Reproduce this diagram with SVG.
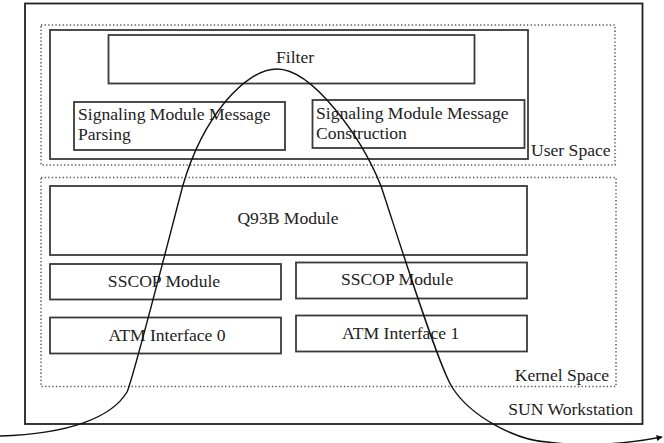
<svg xmlns="http://www.w3.org/2000/svg" width="664" height="443" viewBox="0 0 664 443">
<style>
.box{fill:none;stroke:#3a3a3a;stroke-width:1.8}
.outer{fill:none;stroke:#222;stroke-width:1.8}
.dot{fill:none;stroke:#555;stroke-width:1.5;stroke-dasharray:1.3 2.3}
.t{font-family:"Liberation Serif","Times New Roman",serif;font-size:17.6px;fill:#222}
.flow{fill:none;stroke:#111;stroke-width:1.4}
</style>
<defs>
<marker id="ah" viewBox="0 0 10 10" refX="9" refY="5" markerWidth="8" markerHeight="6" orient="auto" markerUnits="userSpaceOnUse">
<path d="M0,0 L10,5 L0,10 Z" fill="#111"/>
</marker>
</defs>
<g id="sun-workstation">
<rect class="outer" x="25" y="3.5" width="617.5" height="420.5"/>
<text class="t" x="633" y="415" text-anchor="end">SUN Workstation</text>
</g>
<g id="user-space">
<rect class="dot" x="41" y="25" width="574" height="140"/>
<text class="t" x="531" y="156">User Space</text>
</g>
<g id="user-modules">
<rect class="box" x="50" y="30" width="478" height="129"/>
</g>
<g id="filter">
<rect class="box" x="108.5" y="35" width="366" height="48.5"/>
<text class="t" x="276" y="63">Filter</text>
</g>
<g id="parsing">
<rect class="box" x="74" y="102" width="211" height="48"/>
<text class="t" x="78" y="120">Signaling Module Message</text>
<text class="t" x="78" y="140">Parsing</text>
</g>
<g id="construction">
<rect class="box" x="312.5" y="100" width="212" height="48"/>
<text class="t" x="316" y="119">Signaling Module Message</text>
<text class="t" x="316" y="139">Construction</text>
</g>
<g id="kernel-space">
<rect class="dot" x="41" y="177.5" width="575" height="209"/>
<text class="t" x="609" y="381" text-anchor="end">Kernel Space</text>
</g>
<g id="q93b">
<rect class="box" x="50" y="186" width="477" height="69"/>
<text class="t" x="288" y="224" text-anchor="middle">Q93B Module</text>
</g>
<g id="sscop0">
<rect class="box" x="50" y="264" width="231" height="35.5"/>
<text class="t" x="164" y="287" text-anchor="middle">SSCOP Module</text>
</g>
<g id="sscop1">
<rect class="box" x="296" y="262.5" width="231" height="36"/>
<text class="t" x="341" y="285">SSCOP Module</text>
</g>
<g id="atm0">
<rect class="box" x="50" y="317.5" width="231" height="36"/>
<text class="t" x="167" y="341" text-anchor="middle">ATM Interface 0</text>
</g>
<g id="atm1">
<rect class="box" x="296" y="315.5" width="231" height="36"/>
<text class="t" x="342" y="339">ATM Interface 1</text>
</g>
<g id="connectors">
<path class="flow" marker-end="url(#ah)" d="M0,436 C70,434 112,417 127,392 C132,383 168,242 183,185 C203,117 245,69 277,69 C312,69 361,136 381,186 C396,231 437,363 452,387 C470,416 515,440 547,442 C585,447 625,444 662,437"/>
</g>
</svg>
